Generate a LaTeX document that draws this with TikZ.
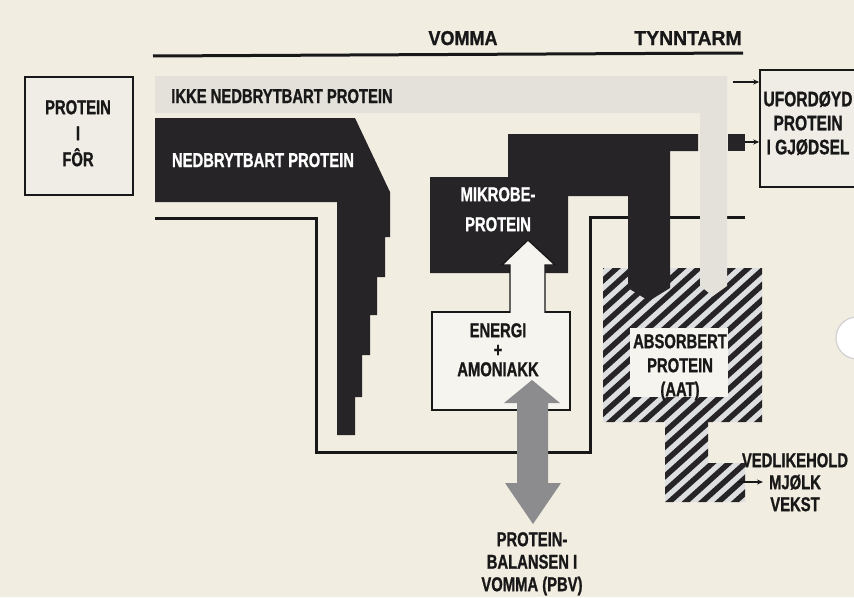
\documentclass[tikz,border=0pt]{standalone}
\usepackage{fontspec}
\usetikzlibrary{arrows.meta}
\newfontfamily\cond{Liberation Sans Bold}[FakeStretch=0.74,FakeBold=1.0]
\newfontfamily\condw{Liberation Sans Bold}[FakeStretch=0.9,FakeBold=1.0]
\newfontfamily\condx{Liberation Sans Bold}[FakeStretch=0.97,FakeBold=1.0]
\definecolor{bg}{RGB}{242,237,225}
\definecolor{band}{RGB}{228,225,218}
\definecolor{dark}{RGB}{38,36,38}
\definecolor{ink}{RGB}{24,24,24}
\definecolor{garrow}{RGB}{140,140,142}
\definecolor{hgap}{RGB}{222,223,224}
\definecolor{boxfill}{RGB}{240,237,230}
\definecolor{paper}{RGB}{246,244,238}
\begin{document}
\begin{tikzpicture}[x=1pt,y=-1pt,
  lbl/.style={inner sep=0pt, align=center, text=ink, font=\fontsize{20}{#1}\selectfont\cond},
  lbl/.default=24,
  wlbl/.style={lbl=#1, text=white},
  wlbl/.default=24,
  toplbl/.style={inner sep=0pt, text=ink, font=\fontsize{20}{24}\selectfont\condw},
  frameline/.style={draw=ink, line width=3pt, miter limit=10},
  boxline/.style={draw=ink, line width=1.5pt, fill=boxfill, inner sep=0pt},
  thinarrow/.style={draw=ink, line width=1.2pt, -{Stealth[length=6pt,width=5pt]}},
  darkfill/.style={fill=dark},
]
\useasboundingbox (0,0) rectangle (854,597);
\clip (0,0) rectangle (854,597);
\fill[bg] (0,0) rectangle (854,597);

% top divider line
\draw[ink, line width=3pt] (153,56) -- (743,53);

% rumen frame line
\draw[frameline] (155,218) -- (316,218) -- (316,452) -- (590,452) -- (590,217) -- (745,217);

% hatched absorbed protein region
\begin{scope}
  \clip (603,268) -- (762,268) -- (762,422) -- (708,422) -- (708,463) -- (745,463)
        -- (745,502) -- (665,502) -- (665,422) -- (603,422) -- cycle;
  \fill[hgap] (600,260) rectangle (770,510);
  \foreach \d in {590,601,...,900}
    \draw[dark, line width=5.5pt] ({\d*0.669-600*0.743},{\d*0.743+600*0.669})
          -- ({\d*0.669+600*0.743},{\d*0.743-600*0.669});
\end{scope}
\fill[paper] (630,328) rectangle (728,397);

% light band: non-degradable protein
\fill[band] (155,76) -- (727,76) -- (727,286) -- (713,296) -- (700,286) -- (700,113) -- (155,113) -- cycle;

% dark degradable protein
\fill[darkfill] (155,118) -- (355,118) -- (390,192) -- (390,237) -- (385,237) -- (385,277)
  -- (377,277) -- (377,315) -- (370,315) -- (370,355) -- (362,355) -- (362,397)
  -- (355,397) -- (355,435) -- (337,435) -- (337,202) -- (155,202) -- cycle;

% dark microbial protein
\fill[darkfill] (430,177) -- (508,177) -- (508,134) -- (698,134) -- (698,151) -- (670,151)
  -- (670,288) -- (649,301) -- (628,288) -- (628,196) -- (568,196) -- (568,273)
  -- (430,273) -- cycle;

% energy + ammonia box with white arrow
\node[boxline, fill=paper, minimum width=138pt, minimum height=98pt] (enbox) at (501,361) {};
\fill[paper] (510,313.5) -- (510,265) -- (502,265) -- (528,240) -- (555,265) -- (545,265) -- (545,313.5) -- cycle;
\draw[ink, line width=1.3pt, line join=miter] (510,312.8) -- (510,265) -- (502,265) -- (528,240) -- (555,265) -- (545,265) -- (545,312.8);

% grey double arrow
\fill[garrow] (532,380) -- (560,403) -- (548,403) -- (548,483) -- (561,483) -- (533,524)
  -- (505,483) -- (517,483) -- (517,403) -- (504,403) -- cycle;

% boxes
\node[boxline, minimum width=116pt, minimum height=117pt] (ufor) at (818,128.5) {};
\node[boxline, minimum width=108pt, minimum height=118pt] (pif) at (79,136) {};

% arrows into the manure box
\coordinate (ta) at (733,82);
\draw[thinarrow] (ta) -- (ta -| ufor.west);
\fill[darkfill] (728,134) rectangle (745,151);
\coordinate (tb) at (745,142);
\draw[thinarrow] (tb) -- (tb -| ufor.west);

% arrow to maintenance
\coordinate (ma) at (738,482);
\coordinate (mb) at (763,482);
\draw[thinarrow] (ma) -- (mb);

% labels
\node[toplbl, anchor=base] (vomma) at (463,45) {VOMMA};
\node[inner sep=0pt, text=ink, font=\fontsize{20}{24}\selectfont\condx, anchor=base] (tynn) at (688,45) {TYNNTARM};
\node[lbl, anchor=base] (ikke) at (282,103) {IKKE NEDBRYTBART PROTEIN};
\node[wlbl, anchor=base] (nedb) at (263,167) {NEDBRYTBART PROTEIN};
\node[wlbl=30, anchor=north] (mikro) at (498,187) {MIKROBE-\\PROTEIN};
\node[lbl=19.5, anchor=north] (energ) at (498,323) {ENERGI\\+\\AMONIAKK};
\node[lbl=24, anchor=north] (absorb) at (680,334) {ABSORBERT\\PROTEIN\\(AAT)};
\node[lbl=22.5, anchor=north] (pbv) at (532,532) {PROTEIN-\\BALANSEN I\\VOMMA (PBV)};
\node[lbl=22, anchor=north] (vedl) at (795,453) {VEDLIKEHOLD\\MJØLK\\VEKST};
\node[lbl=26, anchor=north] (piftext) at (78,100) {PROTEIN\\I\\FÔR};
\node[inner sep=0pt, align=center, text=ink, font=\fontsize{21}{24}\selectfont\cond, anchor=north] (ufortext) at (808,91) {UFORDØYD\\PROTEIN\\I GJØDSEL};

% page artefact at right edge
\fill[white] (857,338) circle (21);
\draw[black!18, line width=1.2pt] (857,338) circle (21);
\end{tikzpicture}
\end{document}
